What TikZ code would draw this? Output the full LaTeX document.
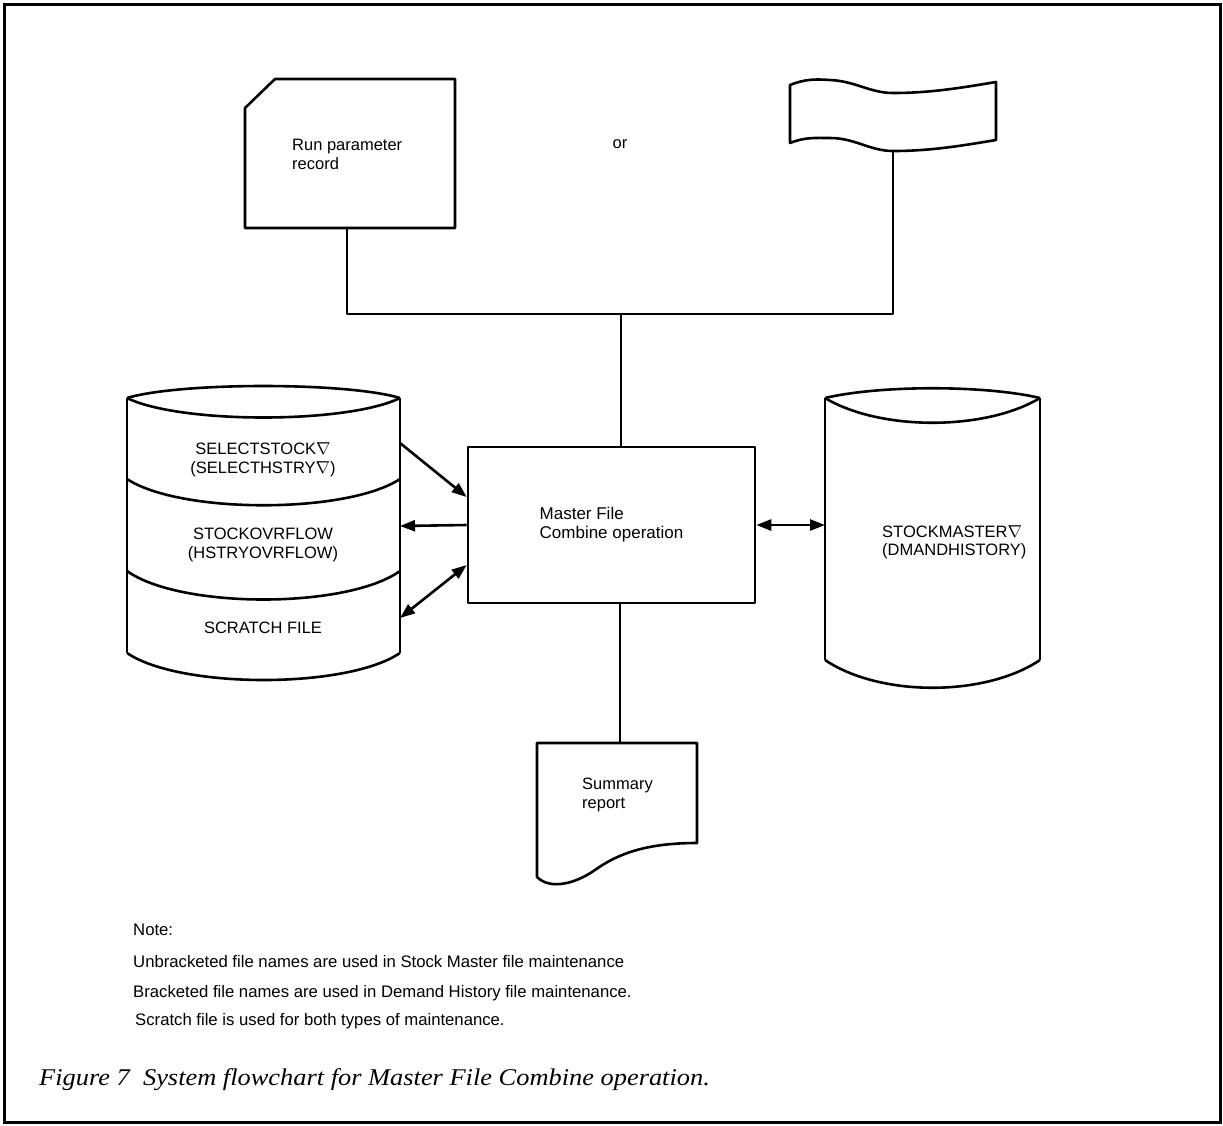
\documentclass[tikz,border=0pt]{standalone}
\usepackage{fontspec}
\setmainfont{Liberation Sans}
\newfontfamily\capfont[FakeStretch=1.1]{Liberation Serif}
\usetikzlibrary{arrows.meta}

\begin{document}
\begin{tikzpicture}[x=1pt,y=-1pt,
  ln/.style={line width=2.6pt, line join=round},
  lbl/.style={font=\fontsize{16.5}{18.5}\selectfont, inner sep=0pt},
  notetxt/.style={font=\fontsize{16.7}{19}\selectfont, inner sep=0pt, anchor=base west},
  arr/.style={ln, -{Triangle[length=15pt,width=11pt]}},
  darr/.style={ln, {Triangle[length=15pt,width=11pt]}-{Triangle[length=15pt,width=11pt]}},
]
\useasboundingbox (0,0) rectangle (1223,1125);
% frame
\draw[line width=3pt] (4,4) rectangle (1220,1122);

% punched card
\draw[ln] (245,108) -- (275,79) -- (455,79) -- (455,228) -- (245,228) -- cycle;
\node[lbl, align=left, anchor=north west] (card) at (292,139) {Run parameter\\record};
\coordinate (cardS) at (347,228);

\node[lbl, anchor=base] (or) at (620,148) {or};

% punched tape
\draw[ln] (790,85) .. controls (805,79) and (815,79) .. (830,80)
  .. controls (855,81) and (870,93) .. (893,93)
  .. controls (930,93) and (960,88) .. (996,82)
  -- (996,140)
  .. controls (960,146) and (930,151) .. (893,151)
  .. controls (870,151) and (855,138) .. (830,138)
  .. controls (815,138) and (805,137) .. (790,143) -- cycle;
\coordinate (tapeS) at (893,151);

% junction of the input lines
\coordinate (jn) at (621,314);
\draw[ln] (cardS) |- (jn) -| (tapeS);

% process box
\node[draw, ln, minimum width=287pt, minimum height=156pt, inner sep=0pt,
      font=\fontsize{17}{19}\selectfont, align=left] (box) at (611.5,525) {Master File\\Combine operation};
\draw[ln] (jn) -- (jn |- box.north);

% stacked disk files
\draw[ln] (127,398) .. controls (180,382) and (347,382) .. (400,398);
\draw[ln] (127,398) .. controls (180,424) and (347,424) .. (400,398);
\draw[ln] (127,398) -- (127,653);
\draw[ln] (400,398) -- (400,653);
\draw[ln] (127,479) .. controls (180,514) and (347,514) .. (400,479);
\draw[ln] (127,571) .. controls (180,609) and (347,609) .. (400,571);
\draw[ln] (127,653) .. controls (180,689) and (347,689) .. (400,653);
\node[lbl, align=center] (sel) at (263,460) {SELECTSTOCK$\nabla$\\(SELECTHSTRY$\nabla$)};
\node[lbl, align=center] (ovr) at (263,545) {STOCKOVRFLOW\\(HSTRYOVRFLOW)};
\node[lbl, anchor=base] (scr) at (263,633) {SCRATCH FILE};
\coordinate (selE) at (400,443);
\coordinate (ovrE) at (400,526);
\coordinate (scrE) at (400,618);

\draw[arr] (selE) -- ([yshift=28pt]box.west);
\draw[arr] (box.west) -- (ovrE);
\draw[darr] ([yshift=-40pt]box.west) -- (scrE);

% master disk file
\draw[ln] (825,398) .. controls (880,385) and (985,385) .. (1040,398);
\draw[ln] (825,398) .. controls (880,431) and (985,431) .. (1040,398);
\draw[ln] (825,398) -- (825,660);
\draw[ln] (1040,398) -- (1040,660);
\draw[ln] (825,660) .. controls (880,697) and (985,697) .. (1040,660);
\node[lbl, align=left, anchor=north west] (mst) at (882,525) {STOCKMASTER$\nabla$\\(DMANDHISTORY)};
\coordinate (mstW) at (825,525);
\draw[darr] (box.east) -- (mstW);

% report document
\draw[ln] (537,743) -- (697,743) -- (697,843)
  .. controls (650,843) and (620,852) .. (595,870)
  .. controls (575,884) and (550,890) .. (537,877) -- cycle;
\coordinate (docN) at (620,743);
\draw[ln] (docN |- box.south) -- (docN);
\node[lbl, align=left, anchor=north west] (sum) at (582,778) {Summary\\report};

% notes
\node[notetxt] (n0) at (133,935) {Note:};
\node[notetxt] (n1) at (133,967) {Unbracketed file names are used in Stock Master file maintenance};
\node[notetxt] (n2) at (133,997) {Bracketed file names are used in Demand History file maintenance.};
\node[notetxt] (n3) at (135,1025) {Scratch file is used for both types of maintenance.};

% caption
\node[inner sep=0pt, anchor=base west, font=\capfont\itshape\fontsize{24}{27}\selectfont] (cap)
  at (39,1085) {Figure 7\ \ System flowchart for Master File Combine operation.};
\end{tikzpicture}
\end{document}
